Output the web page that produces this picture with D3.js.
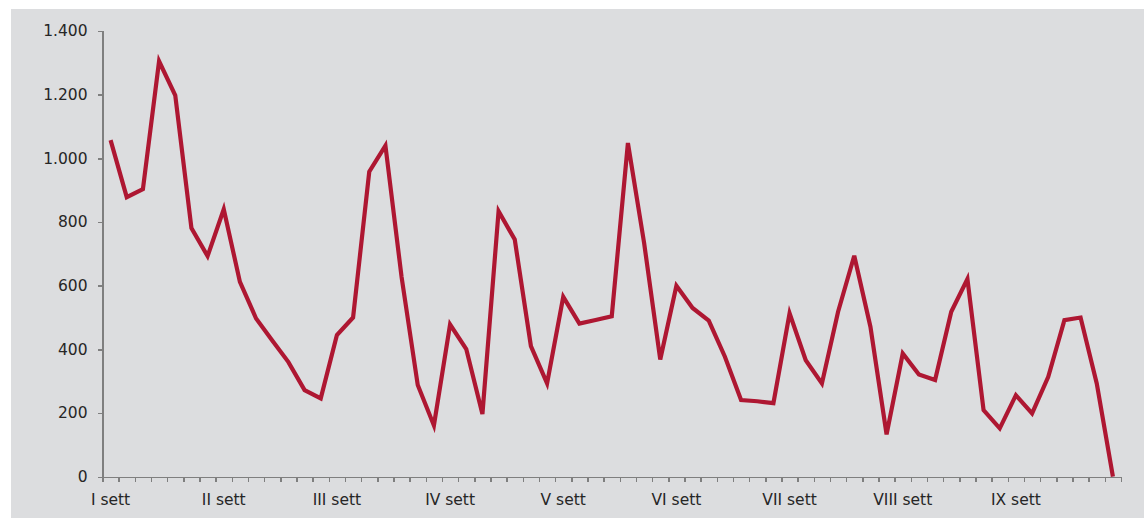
<!DOCTYPE html>
<html lang="it">
<head>
<meta charset="utf-8">
<title>Andamento giornaliero per settimana</title>
<script src="https://cdn.jsdelivr.net/npm/d3@7/dist/d3.min.js"></script>
<style>
  html, body { margin: 0; padding: 0; background: #fff; }
  svg { display: block; }
  .axis path, .axis line { stroke: #7f7f7f; stroke-width: 1.4; shape-rendering: crispEdges; }
  .axis text { font-family: "DejaVu Sans", sans-serif; font-size: 15.5px; fill: #262626; }
  .series { fill: none; stroke: #ae1732; stroke-width: 4.2; stroke-linejoin: miter; stroke-linecap: butt; }
</style>
</head>
<body>
<div id="chart"></div>
<script>
// one value per day, 9 weeks x 7 days
var VALUES = [
  1057, 878, 903, 1305, 1198, 781, 693,
  840, 612, 497, 428, 360, 272, 246,
  445, 500, 958, 1040, 627, 288, 161,
  478, 401, 197, 834, 745, 410, 293,
  565, 481, 492, 504, 1048, 735, 368,
  600, 530, 490, 377, 241, 237, 231,
  513, 366, 293, 518, 694, 471, 133,
  387, 321, 304, 518, 621, 209, 152,
  256, 199, 314, 492, 500, 293, 0
];
var WEEKS = ["I sett", "II sett", "III sett", "IV sett", "V sett", "VI sett", "VII sett", "VIII sett", "IX sett"];
var DAYS_PER_WEEK = 7;
var Y_TICKS = [0, 200, 400, 600, 800, 1000, 1200, 1400];

(function () {
  "use strict";
  var W = 1148, H = 518;
  var left = 102.5, right = 1121, top = 31, bottom = 476.7;

  var it = d3.formatLocale({ decimal: ",", thousands: ".", grouping: [3], currency: ["€", ""] });
  var fmt = it.format(",d");

  var svg = d3.select("#chart").append("svg").attr("width", W).attr("height", H);

  // grey plot card
  svg.append("rect").attr("x", 11).attr("y", 9).attr("width", 1133).attr("height", H - 9).attr("fill", "#dcdddf");

  // x runs over day slots: boundaries on integers, points at slot centres
  var x = d3.scaleLinear().domain([0, VALUES.length]).range([left, right]);
  var y = d3.scaleLinear().domain([0, 1400]).range([bottom, top]);

  svg.append("g").attr("class", "axis")
    .attr("transform", "translate(" + left + ",0)")
    .call(d3.axisLeft(y).tickValues(Y_TICKS).tickFormat(fmt).tickSizeOuter(0).tickSize(5).tickPadding(10));

  var xAxis = svg.append("g").attr("class", "axis")
    .attr("transform", "translate(0," + bottom + ")")
    .call(d3.axisBottom(x).tickValues(d3.range(VALUES.length + 1)).tickFormat("").tickSizeOuter(0).tickSize(5));

  // week labels under the first day of each week
  xAxis.selectAll("text.week").data(WEEKS).enter().append("text")
    .attr("class", "week")
    .attr("x", function (d, i) { return x(i * DAYS_PER_WEEK + 0.5); })
    .attr("y", 28)
    .attr("text-anchor", "middle")
    .text(function (d) { return d; });

  var line = d3.line()
    .x(function (d, i) { return x(i + 0.5); })
    .y(function (d) { return y(d); });

  svg.append("path").datum(VALUES).attr("class", "series").attr("d", line);
})();
</script>
</body>
</html>
